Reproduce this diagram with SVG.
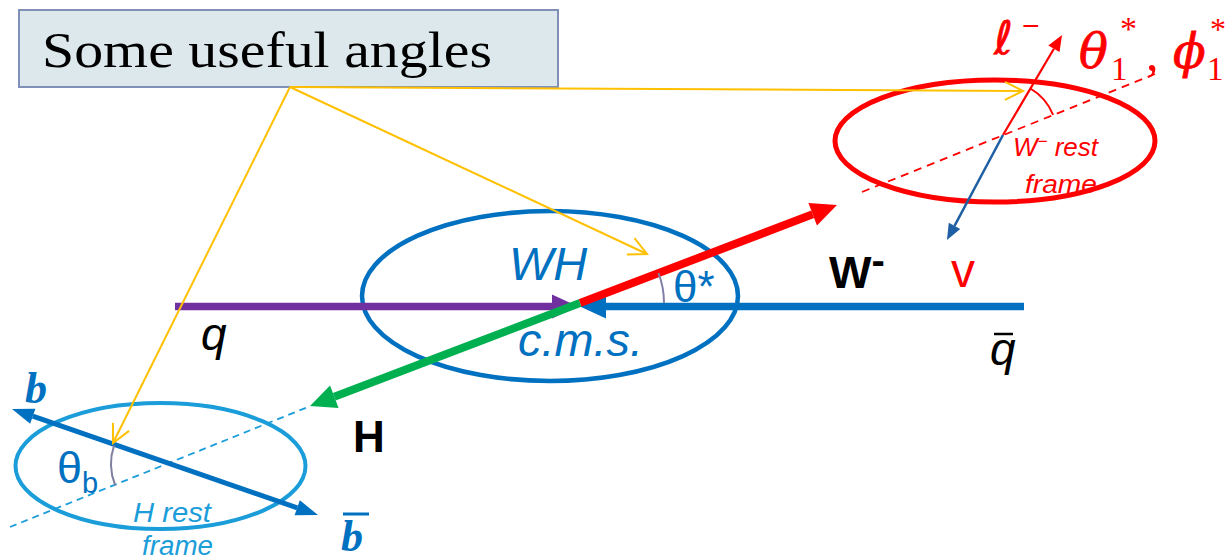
<svg xmlns="http://www.w3.org/2000/svg" width="1227" height="560" viewBox="0 0 1227 560">
<style>
.sans{font-family:"Liberation Sans",Arial,sans-serif}
.serif{font-family:"Liberation Serif","Times New Roman",serif}
.math{font-family:"DejaVu Serif","Liberation Serif",serif;font-style:italic}
.yl{stroke:#ffc000;stroke-width:2;fill:none}
.arc{fill:none;stroke-width:2}
.red{fill:#ff0000}
</style>
<defs>
<marker id="hRed" markerUnits="userSpaceOnUse" markerWidth="30" markerHeight="26" viewBox="0 -13 30 26" refX="0" refY="0" orient="auto" overflow="visible"><path d="M0,-12 L26,0 L0,12 z" fill="#ff0000"/></marker>
<marker id="hGreen" markerUnits="userSpaceOnUse" markerWidth="30" markerHeight="26" viewBox="0 -13 30 26" refX="0" refY="0" orient="auto" overflow="visible"><path d="M0,-12 L26,0 L0,12 z" fill="#00b050"/></marker>
<marker id="hPurple" markerUnits="userSpaceOnUse" markerWidth="30" markerHeight="26" viewBox="0 -13 30 26" refX="0" refY="0" orient="auto" overflow="visible"><path d="M0,-12 L26,0 L0,12 z" fill="#7030a0"/></marker>
<marker id="hBlue" markerUnits="userSpaceOnUse" markerWidth="30" markerHeight="26" viewBox="0 -13 30 26" refX="0" refY="0" orient="auto" overflow="visible"><path d="M0,-12 L26,0 L0,12 z" fill="#0070c0"/></marker>
<marker id="hB" markerUnits="userSpaceOnUse" markerWidth="24" markerHeight="20" viewBox="0 -10 24 20" refX="0" refY="0" orient="auto-start-reverse" overflow="visible"><path d="M0,-8 L22,0 L0,8 z" fill="#0070c0"/></marker>
<marker id="hLep" markerUnits="userSpaceOnUse" markerWidth="18" markerHeight="14" viewBox="0 -7 18 14" refX="0" refY="0" orient="auto" overflow="visible"><path d="M0,-6.5 L16,0 L0,6.5 z" fill="#ff0000"/></marker>
<marker id="hNu" markerUnits="userSpaceOnUse" markerWidth="18" markerHeight="14" viewBox="0 -7 18 14" refX="0" refY="0" orient="auto" overflow="visible"><path d="M0,-6.5 L16,0 L0,6.5 z" fill="#1f5fa3"/></marker>
<marker id="hY" markerUnits="userSpaceOnUse" markerWidth="22" markerHeight="22" viewBox="-20 -11 22 22" refX="0" refY="0" orient="auto" overflow="visible"><path d="M-18,-9 L0,0 L-18,9" fill="none" stroke="#ffc000" stroke-width="2"/></marker>
</defs>
<rect width="1227" height="560" fill="#ffffff"/>

<g id="title">
<rect x="19" y="10" width="539" height="77" fill="#dde8ed" stroke="#8090b8" stroke-width="2"/>
<text class="serif" x="42" y="67" font-size="50" textLength="450" lengthAdjust="spacingAndGlyphs" fill="#000">Some useful angles</text>
</g>

<g id="wh-frame">
<ellipse cx="550" cy="296" rx="188" ry="85" fill="none" stroke="#0070c0" stroke-width="4.5"/>
<text class="sans" x="509" y="280" font-size="47" font-style="italic" fill="#0070c0">WH</text>
<text class="sans" x="518" y="356" font-size="47" font-style="italic" fill="#0070c0" textLength="125" lengthAdjust="spacingAndGlyphs">c.m.s.</text>
</g>

<g id="w-rest-frame">
<ellipse cx="995" cy="141" rx="160" ry="61" fill="none" stroke="#ff0000" stroke-width="5"/>
<text class="sans" x="1013" y="156" font-size="26" font-style="italic" fill="#ff0000">W<tspan font-size="17" dy="-9">−</tspan><tspan dy="9"> rest</tspan></text>
<text class="sans" x="1025" y="193" font-size="26" font-style="italic" fill="#ff0000" textLength="72" lengthAdjust="spacingAndGlyphs">frame</text>
</g>

<g id="h-rest-frame">
<ellipse cx="160.5" cy="466" rx="145" ry="63" fill="none" stroke="#1b9dd9" stroke-width="4"/>
<text class="sans" x="133" y="522" font-size="27" font-style="italic" fill="#1b9dd9" textLength="78" lengthAdjust="spacingAndGlyphs">H rest</text>
<text class="sans" x="142" y="555" font-size="27" font-style="italic" fill="#1b9dd9" textLength="71" lengthAdjust="spacingAndGlyphs">frame</text>
</g>

<g id="connectors">
<line x1="862" y1="192" x2="1155" y2="74" stroke="#ff0000" stroke-width="1.8" stroke-dasharray="8 6"/>
<line x1="10" y1="527" x2="308" y2="407" stroke="#1b9dd9" stroke-width="1.8" stroke-dasharray="7 5"/>
<line x1="175" y1="306.5" x2="552" y2="306.5" stroke="#7030a0" stroke-width="7.5" marker-end="url(#hPurple)"/>
<line x1="1024" y1="306.5" x2="606" y2="306.5" stroke="#0070c0" stroke-width="7.5" marker-end="url(#hBlue)"/>
<line x1="580" y1="303" x2="812.7" y2="214.3" stroke="#ff0000" stroke-width="8" marker-end="url(#hRed)"/>
<line x1="580" y1="303" x2="334.3" y2="396.7" stroke="#00b050" stroke-width="8" marker-end="url(#hGreen)"/>
<line x1="1003" y1="135" x2="1053.9" y2="48.8" stroke="#ff0000" stroke-width="2.2" marker-end="url(#hLep)"/>
<line x1="1003" y1="135" x2="954.5" y2="225.9" stroke="#1f5fa3" stroke-width="2.5" marker-end="url(#hNu)"/>
<line x1="32.8" y1="416.2" x2="297.2" y2="507.8" stroke="#0070c0" stroke-width="5" marker-start="url(#hB)" marker-end="url(#hB)"/>
<path class="arc" d="M658.5,273 A84,84 0 0 1 664,303" stroke="#8080a8"/>
<path class="arc" d="M1030.4,88.5 A54,54 0 0 1 1053.1,114.8" stroke="#ff0000"/>
<path class="arc" d="M114.1,445.4 A57,57 0 0 0 115.2,485.3" stroke="#7f7fa0"/>
<line class="yl" x1="290" y1="87" x2="1023" y2="91" marker-end="url(#hY)"/>
<line class="yl" x1="290" y1="87" x2="647" y2="254" marker-end="url(#hY)"/>
<line class="yl" x1="290" y1="87" x2="113" y2="443" marker-end="url(#hY)"/>
</g>

<g id="labels">
<text class="sans" x="673" y="302" font-size="44" fill="#0070c0">θ*</text>
<text class="sans" x="829" y="288" font-size="45" font-weight="bold" fill="#000">W<tspan font-size="40" dy="-14">-</tspan></text>
<text class="sans" x="951" y="287" font-size="48" fill="#ff0000">v</text>
<text class="sans" x="201" y="350" font-size="46" font-style="italic" fill="#000">q</text>
<text class="sans" x="990" y="365" font-size="46" font-style="italic" fill="#000">q</text>
<line x1="994" y1="334" x2="1013" y2="334" stroke="#000" stroke-width="2.5"/>
<text class="sans" x="353" y="452" font-size="44" font-weight="bold" fill="#000">H</text>
<text class="red" x="994" y="54" font-size="46" font-family="'DejaVu Sans','Liberation Sans',sans-serif" stroke="#ff0000" stroke-width="0.6">ℓ</text>
<text class="sans red" x="1022" y="36" font-size="30">−</text>
<text class="math red" x="1079" y="68" font-size="48" stroke="#ff0000" stroke-width="0.8">θ</text>
<text class="serif red" x="1111" y="80" font-size="33">1</text>
<text class="serif red" x="1120" y="40" font-size="34">*</text>
<text class="serif red" x="1146" y="70" font-size="50">,</text>
<text class="math red" x="1173" y="68" font-size="48" stroke="#ff0000" stroke-width="0.8">ϕ</text>
<text class="serif red" x="1207" y="80" font-size="33">1</text>
<text class="serif red" x="1210" y="40" font-size="32">*</text>
<text class="sans" x="57" y="483" font-size="45" fill="#0070c0">θ<tspan font-size="29" dy="10">b</tspan></text>
<text class="serif" x="25" y="403" font-size="44" font-weight="bold" font-style="italic" fill="#0070c0">b</text>
<text class="serif" x="341" y="551" font-size="44" font-weight="bold" font-style="italic" fill="#0070c0">b</text>
<line x1="343" y1="514" x2="369" y2="514" stroke="#0070c0" stroke-width="3"/>
</g>
</svg>
